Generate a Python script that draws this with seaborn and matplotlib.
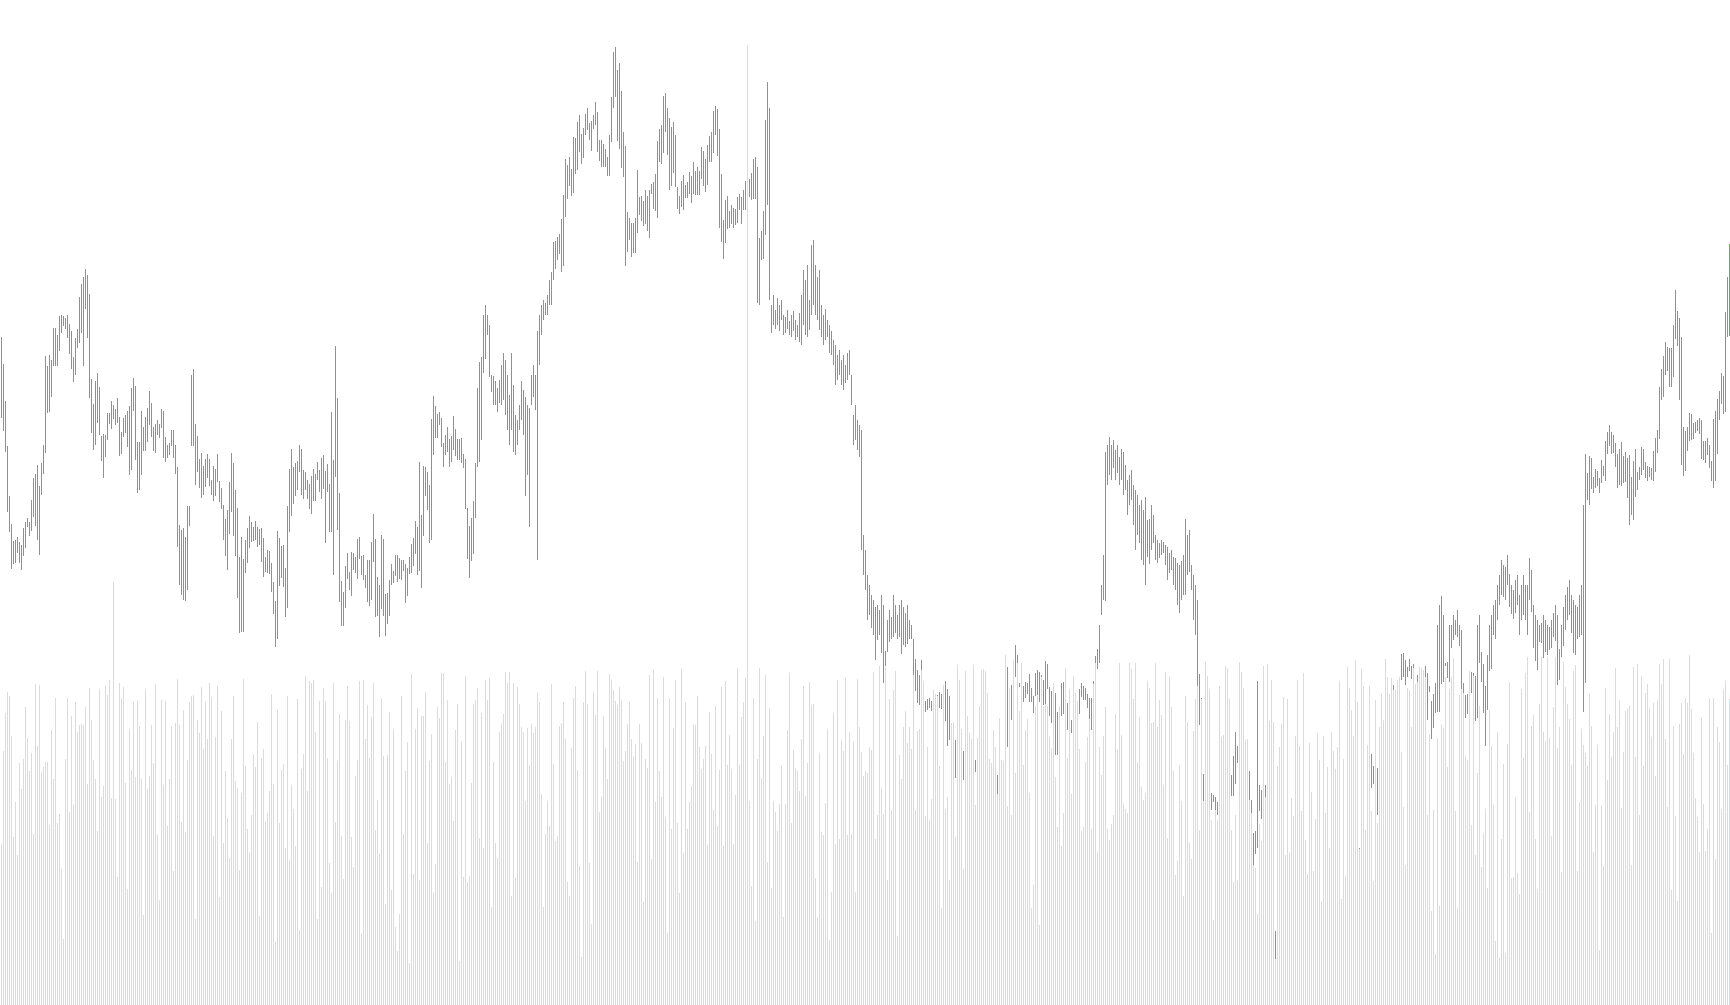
import numpy as np
import pandas as pd
import matplotlib
matplotlib.use('Agg')
import matplotlib.pyplot as plt
import seaborn as sns

# price bars (high / low), one entry per bar, left to right
high = [
    668, 641, 604, 559, 509, 481, 464, 465, 468, 463, 460, 477, 483, 487, 483, 505, 527, 531, 540, 519,
    542, 560, 649, 639, 650, 645, 677, 677, 670, 689, 690, 689, 687, 690, 681, 674, 648, 667, 676, 708,
    721, 728, 736, 730, 711, 626, 601, 624, 632, 618, 569, 571, 570, 592, 592, 604, 600, 596, 607, 588,
    573, 587, 590, 594, 599, 617, 627, 619, 563, 563, 594, 578, 588, 597, 614, 602, 578, 581, 585, 581,
    596, 594, 568, 560, 562, 575, 575, 560, 538, 480, 475, 477, 468, 499, 499, 630, 636, 581, 569, 546,
    552, 539, 546, 551, 546, 525, 539, 536, 551, 524, 517, 500, 486, 495, 523, 552, 542, 515, 497, 448,
    468, 446, 465, 477, 489, 483, 478, 484, 478, 476, 477, 467, 448, 455, 454, 442, 423, 404, 474, 467,
    459, 460, 437, 499, 536, 556, 538, 542, 544, 560, 556, 535, 533, 525, 521, 529, 536, 531, 543, 535,
    547, 550, 534, 541, 521, 593, 545, 659, 607, 512, 424, 413, 439, 452, 433, 453, 452, 448, 466, 468,
    449, 450, 430, 445, 445, 463, 491, 466, 428, 420, 470, 466, 411, 412, 425, 441, 434, 450, 450, 447,
    445, 445, 441, 437, 448, 461, 467, 484, 478, 543, 490, 539, 538, 533, 520, 586, 609, 599, 591, 593,
    587, 562, 570, 578, 566, 569, 589, 576, 566, 566, 567, 551, 546, 497, 479, 487, 504, 542, 617, 643,
    648, 690, 700, 690, 680, 630, 629, 624, 617, 625,
    640, 652, 645, 630, 610, 652, 620, 590, 585, 600, 624, 615, 608, 600, 597, 630, 640, 630, 674, 690,
    700, 705, 702, 710, 725,
    733, 763, 764, 768, 771, 786, 810, 846, 840, 848, 836, 868, 867, 883, 890, 871, 877, 891, 897, 882,
    884, 890, 903, 893, 865, 865, 861, 856, 848, 870, 908, 953, 958, 935, 942, 914, 873, 859, 793, 787,
    782, 782, 787, 835, 808, 809, 804, 815, 809, 815, 821, 823, 831, 864, 876, 880, 909, 912, 897, 887,
    878, 883, 870, 818, 809, 824, 830, 820, 823, 833, 829, 843, 834, 838, 834, 858, 854, 846, 860, 869,
    873, 894, 899, 896, 876, 831, 785, 805, 809, 794, 800, 797, 796, 808, 811, 808, 815, 824, 824, 826,
    832, 846, 848, 838, 767, 774, 794, 885, 923, 897,
    700, 710, 695, 707, 700, 705, 690, 688, 695, 684, 690, 694, 685, 680, 692, 710, 735, 725, 740, 705,
    760, 765, 740, 728, 735, 700, 690, 696, 685, 680, 674, 665, 660, 650, 655, 645, 650, 640, 652, 655,
    630, 590, 600, 585, 580, 575, 470, 455, 430, 420, 410, 405, 398, 400, 395, 410, 400, 354, 385, 395,
    388, 410, 400, 390, 400, 405, 398, 392, 400, 385, 380, 366, 346, 335, 330, 345, 315, 304, 306, 307,
    304, 308, 311, 310, 313, 311, 320, 324, 316, 309, 270, 255, 265, 250, 245, 240, 254, 240, 235, 238,
    232, 236, 245, 238, 230, 235, 232, 228, 236, 238, 242, 235, 205, 230, 228, 225, 232, 350, 338, 317,
    320, 345, 360, 350, 322, 322, 319, 323, 322, 331, 317, 309, 332, 335, 333, 330, 325, 344, 341, 318,
    314, 318, 312, 293, 295, 322, 323, 310, 302, 295, 285, 300, 310, 300, 316, 322, 319, 317, 311, 307,
    307, 324, 349, 356, 380, 420, 450, 553, 560, 568, 560, 565, 555, 560, 548, 556, 553, 540, 525, 530,
    535, 520, 515, 510, 500, 505, 495, 508, 485, 486, 500, 490, 470, 465, 462, 465, 463, 460, 458, 452,
    455, 448, 447, 442, 440, 444, 450, 486, 470, 475, 440, 430, 420, 405, 331, 307, 231, 215, 212, 210,
    212, 210, 208, 203, 205, 215, 225, 245, 250, 240, 230, 249, 273, 259, 250, 255, 248, 260, 245, 234,
    205, 172, 174, 324, 220, 215, 210, 220, 200, 190, 170, 150, 74, 120, 130, 140, 135, 150, 140, 135,
    130, 125, 120, 115, 118, 122, 125, 120, 115, 110, 112, 118, 115, 110, 105, 98, 102, 108, 112, 116,
    120, 118, 114, 110, 106, 100, 108, 115, 120, 126, 132, 138, 142, 148, 157, 170, 190, 170, 220, 235,
    251, 239, 245, 237, 250, 265, 285, 300, 310, 305, 327, 320, 315, 315, 328, 351, 352, 345, 338, 346,
    339, 341, 320, 330, 325, 320, 335, 339, 332, 319, 304, 311, 322, 380, 400, 409, 390, 342, 343, 380,
    380, 390, 385, 395, 380, 375, 322, 310, 311, 320, 333, 332, 329, 380, 390, 353, 341, 319, 350, 380,
    390, 400, 405, 420, 430, 445, 440, 438, 450, 431, 420, 415, 425, 430, 410, 420, 430, 420, 420, 447,
    435, 400, 390, 385, 380, 382, 390, 385, 380, 378, 385, 392, 400, 390, 356, 380, 398, 410, 418, 425,
    410, 405, 400, 398, 410, 420, 500,
    551, 532, 549, 547, 528, 536, 534, 527, 545, 539, 564, 573, 580, 573, 570, 562, 551, 556, 563, 549,
    553, 547, 550, 528, 544, 556, 533, 538, 558, 556, 543, 539, 538, 537, 554, 567, 575, 618, 636, 649,
    663, 658, 657, 657, 680, 715, 694, 687, 668, 578, 574, 578, 592, 591, 582, 583, 585, 587, 585, 564,
    564, 567, 560, 544, 586, 594, 606, 614, 632, 629, 693, 728, 761,
]
low = [
    587, 574, 553, 493, 473, 436, 441, 442, 452, 442, 435, 449, 457, 478, 469, 474, 488, 479, 465, 450,
    510, 531, 552, 592, 593, 608, 639, 639, 639, 654, 672, 679, 676, 667, 651, 636, 623, 630, 657, 662,
    672, 639, 696, 667, 607, 572, 555, 560, 582, 570, 544, 527, 548, 565, 581, 576, 586, 580, 582, 549,
    551, 568, 572, 558, 530, 535, 594, 545, 512, 515, 530, 554, 554, 563, 580, 568, 554, 552, 570, 567,
    577, 547, 543, 547, 550, 559, 547, 531, 458, 420, 410, 405, 404, 415, 479, 559, 559, 520, 533, 517,
    507, 510, 518, 527, 519, 510, 504, 509, 523, 503, 496, 465, 449, 435, 471, 493, 469, 449, 407, 372,
    373, 373, 432, 442, 457, 463, 464, 465, 458, 460, 443, 428, 433, 432, 431, 413, 391, 358, 366, 419,
    427, 418, 388, 397, 473, 489, 501, 509, 515, 533, 510, 506, 515, 506, 496, 491, 504, 504, 525, 513,
    506, 516, 462, 513, 473, 473, 430, 528, 475, 403, 379, 379, 397, 426, 415, 409, 435, 432, 426, 446,
    430, 425, 417, 403, 399, 405, 443, 388, 389, 368, 396, 389, 369, 381, 389, 420, 422, 429, 423, 426,
    425, 434, 402, 409, 431, 432, 439, 451, 430, 434, 417, 469, 509, 495, 462, 465, 550, 567, 567, 580,
    558, 538, 550, 553, 538, 543, 555, 549, 545, 545, 542, 537, 496, 446, 427, 444, 451, 487, 538, 543,
    565, 632, 646, 670, 628, 613, 600, 600, 593, 602,
    600, 605, 590, 575, 560, 575, 553, 550, 560, 575, 585, 570, 509, 530, 478, 600, 608, 595, 445, 640,
    670, 685, 690, 690, 700,
    700, 725, 736, 745, 751, 733, 739, 788, 806, 819, 809, 812, 831, 835, 853, 841, 847, 870, 875, 865,
    854, 876, 880, 853, 844, 838, 838, 838, 829, 829, 863, 897, 908, 864, 856, 837, 828, 739, 753, 765,
    748, 752, 752, 772, 790, 784, 779, 781, 774, 767, 811, 796, 794, 787, 843, 841, 852, 873, 850, 815,
    819, 832, 818, 796, 791, 798, 795, 807, 807, 811, 802, 811, 810, 810, 810, 826, 819, 813, 820, 843,
    843, 852, 870, 849, 777, 763, 746, 762, 776, 777, 781, 777, 780, 782, 795, 781, 795, 795, 800, 808,
    805, 806, 806, 702, 700, 745, 746, 770, 800, 705,
    672, 680, 676, 680, 674, 685, 670, 672, 676, 670, 668, 674, 665, 668, 663, 660, 680, 670, 668, 675,
    690, 700, 690, 685, 675, 668, 660, 665, 668, 652, 650, 640, 620, 625, 630, 620, 615, 622, 625, 630,
    600, 560, 565, 555, 548, 455, 430, 415, 385, 390, 377, 370, 345, 365, 370, 352, 322, 339, 353, 363,
    366, 368, 372, 366, 368, 351, 360, 358, 361, 366, 366, 330, 314, 302, 300, 335, 298, 293, 295, 297,
    294, 296, 300, 285, 297, 296, 300, 284, 259, 265, 240, 230, 227, 228, 225, 226, 225, 222, 215, 220,
    214, 222, 233, 220, 214, 218, 216, 212, 220, 222, 220, 214, 190, 211, 210, 208, 212, 216, 258, 283,
    285, 338, 328, 342, 318, 306, 303, 307, 311, 303, 303, 292, 309, 310, 303, 328, 300, 301, 316, 289,
    282, 306, 250, 250, 270, 289, 291, 285, 275, 278, 272, 280, 290, 285, 291, 308, 305, 305, 297, 286,
    275, 321, 342, 336, 342, 390, 405, 404, 520, 530, 525, 537, 525, 532, 520, 525, 510, 515, 490, 500,
    505, 480, 455, 470, 462, 445, 440, 420, 448, 441, 455, 462, 445, 442, 447, 450, 452, 440, 425, 432,
    435, 420, 415, 400, 392, 405, 410, 410, 430, 433, 415, 385, 370, 319, 280, 297, 204, 200, 198, 196,
    195, 203, 195, 190, 190, 198, 205, 215, 220, 215, 209, 209, 221, 242, 225, 230, 225, 237, 215, 204,
    192, 140, 151, 157, 194, 186, 180, 208, 175, 160, 140, 110, 46, 80, 95, 100, 110, 123, 110, 105,
    100, 95, 90, 85, 88, 92, 96, 90, 85, 80, 82, 88, 86, 80, 75, 70, 72, 78, 84, 88,
    92, 90, 86, 82, 78, 72, 80, 88, 92, 98, 104, 110, 116, 120, 146, 140, 160, 150, 190, 200,
    217, 221, 215, 190, 225, 240, 266, 270, 285, 285, 301, 304, 281, 301, 308, 325, 328, 320, 328, 334,
    326, 322, 300, 305, 300, 298, 318, 307, 285, 313, 266, 277, 292, 293, 293, 321, 323, 339, 327, 323,
    357, 365, 370, 368, 359, 316, 301, 287, 291, 300, 312, 329, 284, 287, 342, 323, 292, 259, 295, 334,
    336, 370, 366, 385, 400, 410, 408, 405, 420, 398, 391, 386, 392, 400, 370, 385, 390, 385, 370, 405,
    393, 357, 344, 335, 363, 362, 347, 353, 350, 355, 357, 368, 364, 320, 325, 348, 359, 375, 385, 390,
    372, 352, 350, 366, 368, 370, 293,
    322, 505, 500, 516, 512, 517, 519, 512, 522, 529, 524, 551, 559, 551, 552, 538, 517, 520, 519, 522,
    523, 507, 480, 490, 485, 508, 515, 525, 530, 535, 527, 524, 528, 525, 524, 533, 552, 566, 605, 608,
    630, 634, 618, 618, 628, 666, 659, 605, 540, 529, 534, 554, 564, 565, 566, 572, 574, 571, 546, 545,
    542, 550, 537, 524, 517, 524, 551, 585, 601, 591, 593, 668, 669,
]

# volume bars, one entry per bar
volume = [
    161, 254, 292, 313, 309, 269, 168, 203, 150, 242, 216, 246, 298, 267, 234, 252, 171, 321, 259, 320,
    233, 238, 243, 243, 180, 275, 226, 307, 182, 191, 136, 66, 246, 307, 193, 289, 200, 303, 273, 280,
    281, 280, 298, 221, 317, 285, 245, 226, 174, 316, 208, 219, 319, 310, 325, 207, 423, 206, 128, 322,
    307, 318, 222, 116, 276, 235, 303, 228, 304, 279, 226, 90, 316, 216, 229, 280, 242, 321, 170, 105,
    305, 220, 304, 179, 226, 279, 134, 282, 326, 280, 183, 295, 173, 245, 303, 309, 310, 86, 285, 272,
    318, 256, 304, 266, 322, 308, 169, 268, 319, 108, 294, 162, 234, 187, 147, 266, 309, 224, 217, 135,
    212, 326, 239, 176, 152, 190, 251, 238, 283, 89, 247, 256, 183, 192, 214, 311, 221, 63, 295, 182,
    235, 241, 157, 309,
    145, 220, 196, 159, 306, 75, 236, 251, 329, 214, 324, 322, 325, 273, 86, 304, 118, 317, 304, 247,
    142, 112, 322, 183, 244, 291, 169, 126, 285, 319, 284, 168, 138, 229, 245, 324, 71, 325, 266, 300,
    247, 288, 322, 175, 205, 151, 307, 249, 101, 250, 293, 115, 276, 78, 54, 91, 309, 171, 234, 263,
    42, 331, 131, 276, 297, 125, 289, 289, 313, 162, 244, 271, 112, 141, 298, 287, 332, 332, 243, 305,
    221, 228, 184, 275, 301, 44, 264, 128, 329, 123, 129, 222, 301, 305, 317, 167, 292, 157, 325, 305,
    327, 98, 243, 162, 147, 273, 281, 291, 333, 322, 333, 109, 322, 127, 318, 301, 278, 273, 204, 277,
    239, 281, 272, 278, 312, 303, 211, 98, 171, 204, 179, 321, 241, 164, 169, 279, 282, 303, 266, 123,
    109, 257, 307, 319,
    235, 139, 48, 303, 334, 301, 142, 81, 313, 290, 334, 193, 208, 289, 257, 226, 331, 325, 315, 304,
    300, 318, 305, 244, 254, 281, 303, 266, 248, 261, 143, 281, 262, 103, 246, 237, 330, 146, 335, 203,
    307, 234, 208, 328, 188, 72, 307, 176, 277, 325, 182, 112, 336, 152, 303, 176, 203, 219, 280, 280,
    309, 258, 236, 246, 259, 160, 293, 251, 195, 299, 179, 235, 318, 159, 324, 240, 270, 236, 161, 210,
    337, 240, 288, 303, 327, 960, 204, 119, 307, 84, 246, 337, 227, 269, 330, 143, 297, 117, 204, 193,
    174, 201, 239, 88, 201, 275, 332, 182, 255, 237, 234, 214, 266, 319, 209, 242, 323, 300, 301, 127,
    87, 252, 173, 170, 202, 276, 65, 113, 292, 161, 325, 166, 265, 254, 327, 170, 273, 171, 264, 113,
    326, 278, 253, 229,
    234, 232, 258, 255, 333, 166, 190, 339, 217, 191, 338, 125, 306, 195, 315, 334, 69, 250, 226, 278,
    294, 262, 278, 256, 330, 195, 274, 276, 335, 324, 189, 258, 185, 206, 315, 311, 309, 239, 97, 320,
    196, 208, 125, 282, 283, 168, 340, 325, 276, 136, 334, 289, 272, 266, 340, 200, 267, 299, 335, 336,
    334, 312, 246, 242, 275, 258, 211, 287, 245, 244, 350, 199, 317, 190, 345, 232, 342, 294, 342, 240,
    275, 286, 212, 97, 120, 299, 310, 80, 328, 299, 301, 299, 268, 257, 322, 228, 178, 299, 159, 192,
    337, 247, 316, 211, 329, 312, 304, 256, 174, 178, 243, 268, 286, 176, 321, 342, 153, 258, 230, 269,
    298, 176, 165, 181, 190, 291, 255, 342, 270, 201, 196, 192, 342, 336, 306, 342, 243, 288, 218, 205,
    212, 324, 317, 282,
    283, 342, 278, 305, 290, 220, 333, 167, 328, 298, 234, 130, 144, 240, 204, 109, 309, 283, 162, 146,
    274, 306, 319, 175, 306, 204, 343, 329, 316, 185, 85, 195, 185, 319, 268, 270, 339, 337, 306, 175,
    123, 190, 125, 343, 333, 317, 265, 266, 205, 192, 140, 137, 91, 181, 164, 339, 208, 341, 284, 325,
    283, 46, 239, 258, 281, 308, 150, 306, 152, 207, 189, 269, 325, 259, 194, 332, 165, 131, 262, 213,
    134, 186, 272, 245, 103, 269, 192, 238, 157, 273, 254, 236, 258, 324, 106, 246, 129, 338, 317, 295,
    269, 345, 303, 156, 336, 319, 175, 260, 319, 194, 124, 305, 182, 278, 311, 285, 346, 328, 311, 327,
    315, 315, 325, 328, 253, 198, 140, 317, 315, 278, 337, 321, 323, 338, 337, 335, 328, 190, 271, 94,
    195, 51, 267, 99,
    280, 277, 328, 238, 316, 328, 347, 194, 97, 310, 316, 312, 249, 245, 334, 180, 329, 150, 232, 299,
    138, 172, 196, 117, 295, 259, 200, 64, 273, 47, 166, 241, 52, 261, 323, 127, 128, 208, 132, 111,
    316, 247, 332, 348, 193, 279, 290, 166, 116, 301, 348, 273, 264, 348, 267, 169, 298, 348, 257, 278,
    133, 343, 318, 301, 286, 240, 334, 340, 134, 203, 276, 260, 252, 239, 311, 279, 153, 200, 260, 55,
    199, 139, 317, 225, 291, 248, 273, 337, 278, 305, 197, 253, 294, 296, 299, 140, 338, 248, 341, 190,
    329, 239, 312, 321, 297, 268, 302, 229, 305, 341, 321, 346, 266, 198, 346, 115, 279, 189, 104, 281,
    302, 251, 307, 302, 350, 296, 252, 207, 188, 153, 287, 201, 154, 176, 307, 72, 307, 146, 278, 263,
    196, 316, 324, 240, 306,
]

sns.set_style('white')
fig = plt.figure(figsize=(17.3, 10.05), dpi=100)
ax = fig.add_axes([0, 0, 1, 1])

# price: one thin high-low bar per period, same column as its volume bar
bars = np.arange(len(high))
hi = np.array(high, dtype=float)
lo = np.array(low, dtype=float)
ax.bar(bars, hi - lo, bottom=lo, width=0.5, color='#22dd22',
       linewidth=0, antialiased=False, zorder=1)
ax.set_xlim(-0.75, len(volume) - 0.75)
ax.set_ylim(0, 1005)
ax.axis('off')

# volume sits on top of the price bars
ax2 = ax.twinx()
vol_df = pd.DataFrame({'bar': np.arange(len(volume)), 'volume': volume})
sns.barplot(data=vol_df, x='bar', y='volume', native_scale=True, width=0.5,
            color='#afeeee', saturation=1, linewidth=0, errorbar=None,
            antialiased=False, ax=ax2)
ax2.set_xlim(-0.75, len(volume) - 0.75)
ax2.set_ylim(0, 1005)
ax2.axis('off')

fig.savefig('out.png', dpi=100)
plt.close()
